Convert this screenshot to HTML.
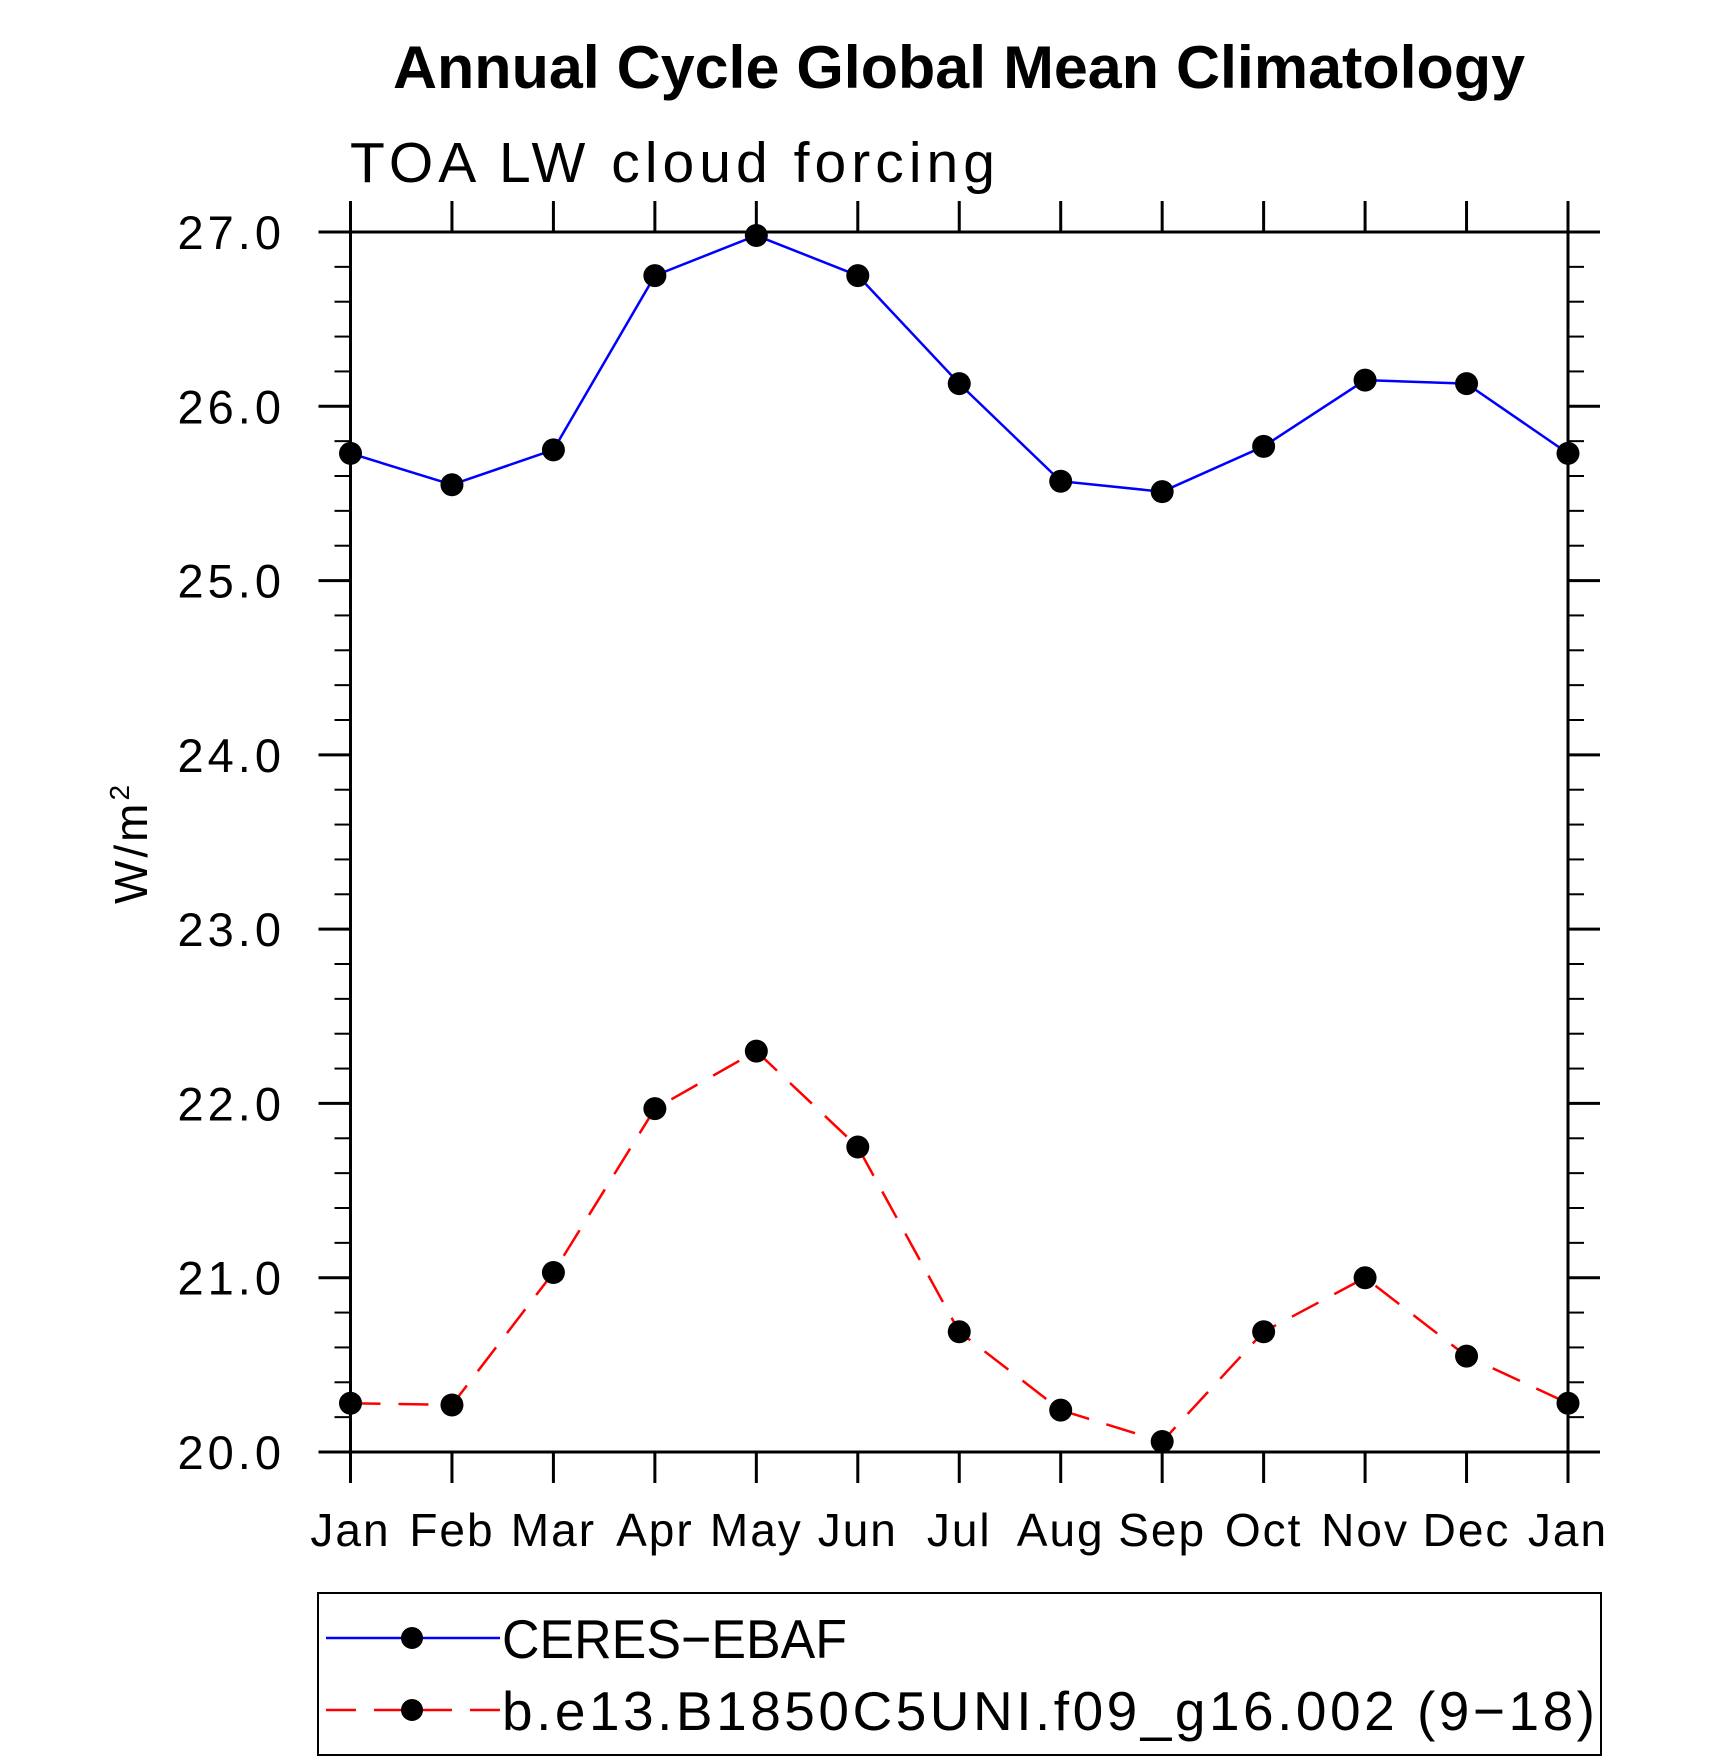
<!DOCTYPE html>
<html><head><meta charset="utf-8"><style>
html,body{margin:0;padding:0;background:#fff}
svg{display:block}
text{font-family:"Liberation Sans",sans-serif}
</style></head><body>
<svg id="chart" width="1710" height="1762" viewBox="0 0 1710 1762" xmlns="http://www.w3.org/2000/svg">
<text x="393" y="88" font-size="60" font-weight="bold" textLength="1132" lengthAdjust="spacingAndGlyphs">Annual Cycle Global Mean Climatology</text>
<text x="350" y="182" font-size="57" textLength="645" lengthAdjust="spacing">TOA LW cloud forcing</text>
<text transform="translate(147,843) rotate(-90)" font-size="46" text-anchor="middle" letter-spacing="3">W/m<tspan font-size="28" dy="-18">2</tspan></text>
<g id="axes"></g>
<g id="series"></g>
<rect x="318" y="1593" width="1283" height="162" fill="none" stroke="#000" stroke-width="2"/>
<g>
<line x1="326" y1="1638" x2="500" y2="1638" stroke="#0000ff" stroke-width="2.5"/>
<circle cx="412" cy="1638" r="11"/>
<text x="502" y="1658" font-size="55" textLength="345" lengthAdjust="spacingAndGlyphs">CERES−EBAF</text>
</g>
<g>
<line x1="326" y1="1710" x2="500" y2="1710" stroke="#ff0000" stroke-width="2.5" stroke-dasharray="30,18"/>
<circle cx="412" cy="1710" r="11"/>
<text x="502" y="1730" font-size="55" textLength="1093" lengthAdjust="spacing">b.e13.B1850C5UNI.f09_g16.002 (9−18)</text>
</g>
</svg>
<script>
const months = ["Jan","Feb","Mar","Apr","May","Jun","Jul","Aug","Sep","Oct","Nov","Dec","Jan"];
const ceres = [25.73,25.55,25.75,26.75,26.98,26.75,26.13,25.57,25.51,25.77,26.15,26.13,25.73];
const model = [20.28,20.27,21.03,21.97,22.30,21.75,20.69,20.24,20.06,20.69,21.00,20.55,20.28];
const yTicks = [20,21,22,23,24,25,26,27];
const yTickLabels = ["20.0","21.0","22.0","23.0","24.0","25.0","26.0","27.0"];

const X0=350.5, X1=1568, Y0=1452, Y1=232, YMIN=20, YMAX=27;
const xs = i => X0 + (X1-X0)*i/(months.length-1);
const ys = v => Y0 - (v-YMIN)/(YMAX-YMIN)*(Y0-Y1);
const NS="http://www.w3.org/2000/svg";
function mk(tag, attrs, parent){const e=document.createElementNS(NS,tag);for(const k in attrs)e.setAttribute(k,attrs[k]);parent.appendChild(e);return e;}
const axes=document.getElementById('axes'), series=document.getElementById('series');

let f=mk('rect',{x:X0,y:Y1,width:X1-X0,height:Y0-Y1,fill:'none',stroke:'#000','stroke-width':3},axes);


mk('line',{x1:319,y1:Y1,x2:1600,y2:Y1,stroke:'#000','stroke-width':3},axes);
mk('line',{x1:319,y1:Y0,x2:1600,y2:Y0,stroke:'#000','stroke-width':3},axes);

months.forEach((m,i)=>{
  const x=xs(i);
  mk('line',{x1:x,y1:Y1,x2:x,y2:201,stroke:'#000','stroke-width':3},axes);
  mk('line',{x1:x,y1:Y0,x2:x,y2:1483,stroke:'#000','stroke-width':3},axes);
  const t=mk('text',{x:x,y:1546,'font-size':46,'text-anchor':'middle','letter-spacing':2},axes);
  t.textContent=m;
  
  
});
for(let v=YMIN; v<=YMAX+1e-9; v+=0.2){
  const y=ys(v), major=Math.abs(v-Math.round(v))<1e-6;
  const L=major?32:16;
  mk('line',{x1:X0-L,y1:y,x2:X0,y2:y,stroke:'#000','stroke-width':major?3:2},axes);
  mk('line',{x1:X1,y1:y,x2:X1+L,y2:y,stroke:'#000','stroke-width':major?3:2},axes);
}
yTicks.forEach((v,i)=>{
  const t=mk('text',{x:285,y:ys(v)+17,'font-size':47,'text-anchor':'end','letter-spacing':4},axes);
  t.textContent=yTickLabels[i];
  
  
});

function draw(data,color,dash,name){
  const pts=data.map((v,i)=>xs(i)+','+ys(v)).join(' ');
  const pl=mk('polyline',{points:pts,fill:'none',stroke:color,'stroke-width':2.5},series);
  if(dash) pl.setAttribute('stroke-dasharray',dash);
  
  
  data.forEach((v,i)=>{
    const c=mk('circle',{cx:xs(i),cy:ys(v),r:11.5,fill:'#000'},series);
    
    
  });
}
draw(ceres,'#0000ff',null,'ceres');
draw(model,'#ff0000','30,18','model');
</script>
</body></html>
